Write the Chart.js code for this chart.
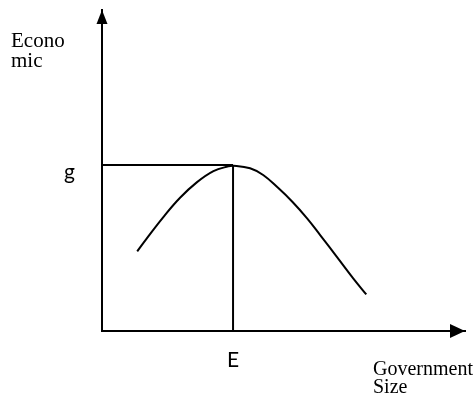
<!DOCTYPE html>
<html lang="en">
<head>
    <meta charset="UTF-8">
    <title>Economic Growth vs Government Size</title>
    <script src="https://cdn.jsdelivr.net/npm/chart.js"></script>
    <style>
        html, body { margin: 0; padding: 0; background: #fff; }
    </style>
</head>
<body>
    <canvas id="armeyChart" width="476" height="393"></canvas>
    <script>
        // values (axis units 0..100)
        const sizeValues = [9.7, 12.3, 16.9, 21.5, 26.1, 30.7, 34.8, 36.2, 40.8, 44.4, 48.5, 52.5, 56.5, 60.1, 64.7, 69.2, 72.8];
        const growthValues = [24.8, 28.8, 35.5, 41.5, 46.3, 49.8, 51.3, 51.5, 50.7, 48.6, 44.6, 40.2, 35.1, 29.9, 23.1, 16.4, 11.4];
        const peakSize = 36.1;   // E
        const peakGrowth = 51.7; // g
        const tickLabels = { x: 'E', y: 'g' };
        const yTitle = ['Econo', 'mic'];
        const xTitle = ['Government', 'Size'];

        const curve = sizeValues.map((v, i) => ({ x: v, y: growthValues[i] }));

        // arrow heads on the axes and the two axis captions
        const axisPlugin = {
            id: 'axisPlugin',
            afterDraw: (chart) => {
                const ctx = chart.ctx;
                const area = chart.chartArea;
                ctx.save();
                ctx.fillStyle = '#000';
                // y arrow
                ctx.beginPath();
                ctx.moveTo(area.left, area.top);
                ctx.lineTo(area.left - 5.5, area.top + 14);
                ctx.lineTo(area.left + 5.5, area.top + 14);
                ctx.closePath();
                ctx.fill();
                // x arrow
                ctx.beginPath();
                ctx.moveTo(area.right, area.bottom);
                ctx.lineTo(area.right - 15, area.bottom - 7);
                ctx.lineTo(area.right - 15, area.bottom + 7);
                ctx.closePath();
                ctx.fill();

                ctx.textBaseline = 'alphabetic';
                ctx.textAlign = 'left';
                ctx.font = '21px "Liberation Serif", "Times New Roman", serif';
                yTitle.forEach((t, i) => ctx.fillText(t, 11, 47 + i * 20));
                ctx.font = '20px "Liberation Serif", "Times New Roman", serif';
                xTitle.forEach((t, i) => ctx.fillText(t, area.right - 92, area.bottom + 44 + i * 18));
                ctx.restore();
            }
        };

        // keep the tick labels from shrinking the plot area
        const noEdgePadding = (s) => {
            s.paddingTop = 0;
            s.paddingBottom = 0;
            s.paddingLeft = 0;
            s.paddingRight = 0;
        };

        const ctx = document.getElementById('armeyChart').getContext('2d');
        const myChart = new Chart(ctx, {
            type: 'scatter',
            data: {
                datasets: [
                    {
                        label: 'curve',
                        data: curve,
                        showLine: true,
                        borderColor: '#000',
                        borderWidth: 2,
                        pointRadius: 0,
                        tension: 0.4
                    },
                    {
                        label: 'g line',
                        data: [{ x: 0, y: peakGrowth }, { x: peakSize, y: peakGrowth }],
                        showLine: true,
                        borderColor: '#000',
                        borderWidth: 2,
                        pointRadius: 0
                    },
                    {
                        label: 'E line',
                        data: [{ x: peakSize, y: 0 }, { x: peakSize, y: peakGrowth }],
                        showLine: true,
                        borderColor: '#000',
                        borderWidth: 2,
                        pointRadius: 0
                    }
                ]
            },
            options: {
                responsive: false,
                animation: false,
                layout: {
                    padding: { left: 0, top: 10, right: 11, bottom: 0 }
                },
                scales: {
                    x: {
                        type: 'linear',
                        min: 0,
                        max: 100,
                        grid: { display: false, drawTicks: false },
                        border: { display: true, color: '#000', width: 2 },
                        afterBuildTicks: (s) => { s.ticks = [{ value: peakSize }]; },
                        afterFit: (s) => { s.height = 62; noEdgePadding(s); },
                        ticks: {
                            padding: 17,
                            color: '#000',
                            font: { family: 'Lato', size: 21 },
                            callback: () => tickLabels.x
                        }
                    },
                    y: {
                        type: 'linear',
                        min: 0,
                        max: 100,
                        grid: { display: false, drawTicks: false },
                        border: { display: true, color: '#000', width: 2 },
                        afterBuildTicks: (s) => { s.ticks = [{ value: peakGrowth }]; },
                        afterFit: (s) => { s.width = 102; noEdgePadding(s); },
                        ticks: {
                            padding: 27,
                            color: '#000',
                            // empty first line drops the label just below the g line, as in the source
                            font: { family: 'Lato', size: 21, lineHeight: '15px' },
                            callback: () => ['', tickLabels.y]
                        }
                    }
                },
                plugins: {
                    legend: { display: false },
                    tooltip: { enabled: false }
                }
            },
            plugins: [axisPlugin]
        });
    </script>
</body>
</html>
